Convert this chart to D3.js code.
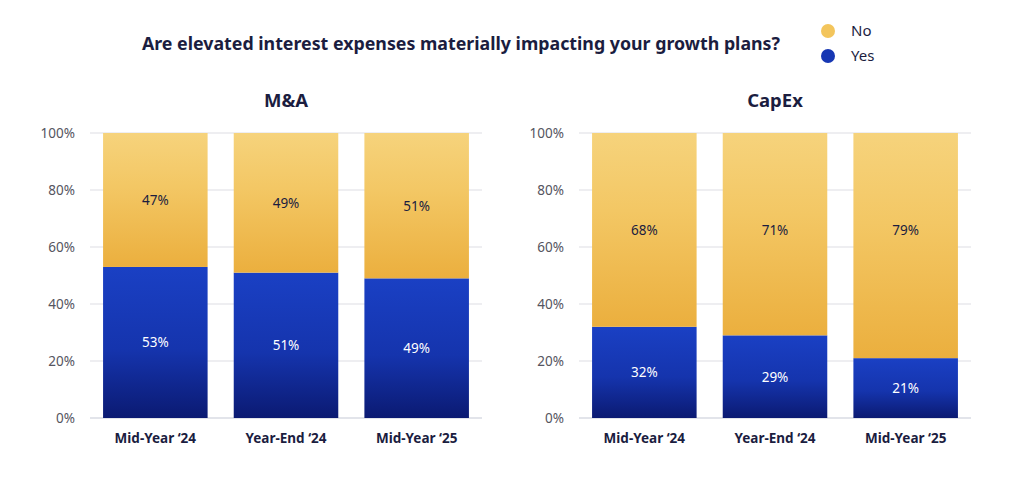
<!DOCTYPE html>
<html>
<head>
<meta charset="utf-8">
<script src="https://cdn.jsdelivr.net/npm/d3@7"></script>
<style>
	body { margin: 0; background: #fff; font-family: "Noto Sans", "Open Sans", sans-serif; }
	svg text { font-family: "Noto Sans", "Open Sans", sans-serif; }
</style>
</head>
<body>
<div id="chart"></div>
<script>
	var periods = ["Mid-Year \u201824", "Year-End \u201824", "Mid-Year \u201825"],
		panels = ["M&A", "CapEx"],
		yesValues = [[53, 51, 49], [32, 29, 21]],
		noValues = [[47, 49, 51], [68, 71, 79]],
		yTicks = [0, 20, 40, 60, 80, 100],
		seriesNames = ["No", "Yes"];

	var width = 1024,
		height = 488,
		panelRanges = [[90, 482], [579, 971]],
		y = d3.scaleLinear().domain([0, 100]).range([418, 133]);

	var svg = d3.select("#chart")
		.append("svg")
		.attr("width", width)
		.attr("height", height);

	var defs = svg.append("defs");

	var gNo = defs.append("linearGradient")
		.attr("id", "gradNo")
		.attr("x1", 0).attr("y1", 0).attr("x2", 0).attr("y2", 1);
	gNo.append("stop").attr("offset", "0%").attr("stop-color", "#f6d37c");
	gNo.append("stop").attr("offset", "40%").attr("stop-color", "#f3c764");
	gNo.append("stop").attr("offset", "100%").attr("stop-color", "#ebaf3e");

	var gYes = defs.append("linearGradient")
		.attr("id", "gradYes")
		.attr("x1", 0).attr("y1", 0).attr("x2", 0).attr("y2", 1);
	gYes.append("stop").attr("offset", "0%").attr("stop-color", "#1a40c4");
	gYes.append("stop").attr("offset", "55%").attr("stop-color", "#1534ad");
	gYes.append("stop").attr("offset", "100%").attr("stop-color", "#0b1a72");

	// title
	svg.append("text")
		.attr("x", 461)
		.attr("y", 50)
		.attr("text-anchor", "middle")
		.attr("font-size", 17.8)
		.attr("font-weight", 700)
		.attr("fill", "#1b1d3f")
		.text("Are elevated interest expenses materially impacting your growth plans?");

	// legend
	var legend = svg.append("g").attr("transform", "translate(828,31)");
	legend.selectAll("g")
		.data(seriesNames)
		.enter()
		.append("g")
		.attr("transform", function(d, i) { return "translate(0," + (i * 25) + ")"; })
		.each(function(d, i) {
			var g = d3.select(this);
			g.append("circle")
				.attr("r", 7)
				.attr("fill", i === 0 ? "#f3c55c" : "#1737b3");
			g.append("text")
				.attr("x", 23)
				.attr("y", 5)
				.attr("font-size", 15)
				.attr("fill", "#1b1d3f")
				.text(d);
		});

	panels.forEach(function(name, p) {
		var x = d3.scaleBand()
			.domain(periods)
			.range(panelRanges[p])
			.paddingInner(0.2)
			.paddingOuter(0.1);

		var g = svg.append("g");

		// grid lines
		g.selectAll("line.grid")
			.data(yTicks)
			.enter()
			.append("line")
			.attr("x1", panelRanges[p][0])
			.attr("x2", panelRanges[p][1])
			.attr("y1", function(d) { return y(d); })
			.attr("y2", function(d) { return y(d); })
			.attr("stroke", function(d) { return d === 0 ? "#d9dbe3" : "#e8e8ec"; })
			.attr("stroke-width", 1.5);

		// y labels
		var yAxis = g.append("g")
			.attr("transform", "translate(" + (panelRanges[p][0] - 15) + ",0)")
			.call(d3.axisLeft(y).tickValues(yTicks).tickSize(0).tickPadding(0)
				.tickFormat(function(d) { return d + "%"; }));
		yAxis.select(".domain").remove();
		yAxis.selectAll("text")
			.attr("font-size", 13.5)
			.attr("fill", "#555560")
			.attr("font-family", "Noto Sans, Open Sans, sans-serif");

		// panel title
		g.append("text")
			.attr("x", (panelRanges[p][0] + panelRanges[p][1]) / 2)
			.attr("y", 107)
			.attr("text-anchor", "middle")
			.attr("font-size", 18.5)
			.attr("font-weight", 700)
			.attr("fill", "#1b1d3f")
			.text(name);

		var rows = periods.map(function(d, i) {
			return { period: d, yes: yesValues[p][i], no: noValues[p][i] };
		});

		// yes bars
		g.selectAll("rect.yes")
			.data(rows)
			.enter()
			.append("rect")
			.attr("x", function(d) { return x(d.period); })
			.attr("width", x.bandwidth())
			.attr("y", function(d) { return y(d.yes); })
			.attr("height", function(d) { return y(0) - y(d.yes); })
			.attr("fill", "url(#gradYes)");

		// no bars
		g.selectAll("rect.no")
			.data(rows)
			.enter()
			.append("rect")
			.attr("x", function(d) { return x(d.period); })
			.attr("width", x.bandwidth())
			.attr("y", function(d) { return y(d.yes + d.no); })
			.attr("height", function(d) { return y(d.yes) - y(d.yes + d.no); })
			.attr("fill", "url(#gradNo)");

		// value labels
		g.selectAll("text.yesLabel")
			.data(rows)
			.enter()
			.append("text")
			.attr("x", function(d) { return x(d.period) + x.bandwidth() / 2; })
			.attr("y", function(d) { return y(d.yes / 2) + 5; })
			.attr("text-anchor", "middle")
			.attr("font-size", 13.5)
			.attr("fill", "#ffffff")
			.text(function(d) { return d.yes + "%"; });

		// "No" labels sit in the middle of the segment, but never lower than ~65%
		g.selectAll("text.noLabel")
			.data(rows)
			.enter()
			.append("text")
			.attr("x", function(d) { return x(d.period) + x.bandwidth() / 2; })
			.attr("y", function(d) { return Math.min(y(d.yes + d.no / 2), y(66)) + 5; })
			.attr("text-anchor", "middle")
			.attr("font-size", 13.5)
			.attr("fill", "#1b1d3f")
			.text(function(d) { return d.no + "%"; });

		// x labels
		g.selectAll("text.xLabel")
			.data(periods)
			.enter()
			.append("text")
			.attr("x", function(d) { return x(d) + x.bandwidth() / 2; })
			.attr("y", 443)
			.attr("text-anchor", "middle")
			.attr("font-size", 13.5)
			.attr("font-weight", 700)
			.attr("fill", "#1b1d3f")
			.text(function(d) { return d; });
	});
</script>
</body>
</html>
